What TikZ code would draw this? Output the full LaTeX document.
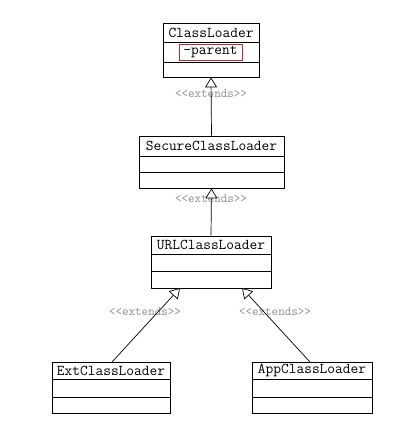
\documentclass[tikz,border=0pt]{standalone}
\usepackage{fontspec}
\usetikzlibrary{arrows.meta,calc}
\definecolor{lblgray}{RGB}{140,140,140}
\definecolor{attrred}{RGB}{200,40,40}
\tikzset{
  x=1pt, y=-1pt,
  cls/.style={draw, line width=0.8pt, rectangle, inner sep=0pt},
  clsname/.style={font=\ttfamily\fontsize{15}{16}\selectfont, inner sep=0pt, anchor=center},
  attr/.style={draw=attrred, line width=0.6pt, rectangle, inner sep=0pt, font=\ttfamily\fontsize{15}{16}\selectfont, minimum width=63pt, minimum height=16pt},
  lbl/.style={font=\ttfamily\fontsize{12.7}{13}\selectfont, text=lblgray, inner sep=0pt},
  inherit/.style={line width=0.7pt, -{Triangle[open, fill=white, length=10pt, width=12pt]}},
  div/.style={line width=0.8pt}
}
\begin{document}
\begin{tikzpicture}
\useasboundingbox (0,0) rectangle (417,436);
% labels (behind connectors)
\node[lbl] (l1) at (211,94) {<<extends>>};
\node[lbl] (l2) at (211,199) {<<extends>>};
\node[lbl] (l3) at (145,312) {<<extends>>};
\node[lbl] (l4) at (275,312) {<<extends>>};
% ClassLoader
\node[cls, minimum width=96pt, minimum height=54pt] (cl) at (211,50) {};
\node[clsname] (clname) at (211,32.5) {ClassLoader};
\draw[div] (163,42) -- (259,42);
\draw[div] (163,62) -- (259,62);
\node[attr] (parent) at (210.5,52) {-parent};
% SecureClassLoader
\node[cls, minimum width=145pt, minimum height=52pt] (scl) at (211.5,162) {};
\node[clsname] (sclname) at (211.5,146) {SecureClassLoader};
\draw[div] (139,156) -- (284,156);
\draw[div] (139,172) -- (284,172);
% URLClassLoader
\node[cls, minimum width=120pt, minimum height=52pt] (url) at (211,262) {};
\node[clsname] (urlname) at (211,245) {URLClassLoader};
\draw[div] (151,254) -- (271,254);
\draw[div] (151,271) -- (271,271);
% ExtClassLoader
\node[cls, minimum width=118pt, minimum height=51pt] (ext) at (111,387.5) {};
\node[clsname] (extname) at (111,370.5) {ExtClassLoader};
\draw[div] (52,379) -- (170,379);
\draw[div] (52,397) -- (170,397);
% AppClassLoader
\node[cls, minimum width=120pt, minimum height=51pt] (app) at (312,387.5) {};
\node[clsname] (appname) at (312,370.5) {AppClassLoader};
\draw[div] (252,379) -- (372,379);
\draw[div] (252,397) -- (372,397);
% connector end points
\coordinate (urlL) at (180,288);
\coordinate (urlR) at (242,288);
\coordinate (extT) at (112,362);
\coordinate (appT) at (310,362);
% connectors
\draw[inherit] (scl.north) -- (cl.south);
\draw[inherit] (url.north) -- (scl.south);
\draw[inherit] (extT) -- (urlL);
\draw[inherit] (appT) -- (urlR);
\end{tikzpicture}
\end{document}
